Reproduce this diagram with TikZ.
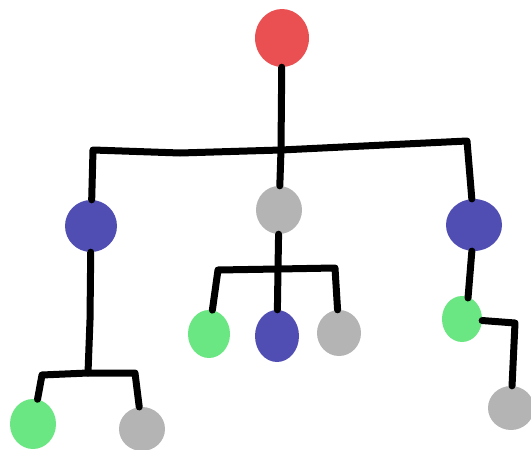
\documentclass[tikz,border=0pt]{standalone}
\usetikzlibrary{shapes.geometric}
\definecolor{blobred}{RGB}{234,80,82}
\definecolor{blobblue}{RGB}{80,78,178}
\definecolor{blobgray}{RGB}{180,180,180}
\definecolor{blobgreen}{RGB}{106,230,130}
\begin{document}
\begin{tikzpicture}[x=1pt,y=-1pt,
  blob/.style={ellipse,inner sep=0pt,draw=none},
  wire/.style={line width=7pt,line cap=round,line join=round}]
\useasboundingbox (0,0) rectangle (531,450);
% tree nodes
\node[blob,fill=blobred,minimum width=54pt,minimum height=58pt] (root) at (282,38) {};
\node[blob,fill=blobblue,minimum width=52pt,minimum height=52pt] (bl) at (91,226) {};
\node[blob,fill=blobgray,minimum width=46pt,minimum height=48pt] (gm) at (279,210) {};
\node[blob,fill=blobblue,minimum width=56pt,minimum height=52pt] (br) at (474,225) {};
\node[blob,fill=blobgreen,minimum width=42pt,minimum height=48pt] (g1) at (209,334) {};
\node[blob,fill=blobblue,minimum width=44pt,minimum height=52pt] (b2) at (277,336) {};
\node[blob,fill=blobgray,minimum width=44pt,minimum height=46pt] (g2) at (339,333) {};
\node[blob,fill=blobgreen,minimum width=40pt,minimum height=46pt] (gr) at (462,319) {};
\node[blob,fill=blobgray,minimum width=46pt,minimum height=44pt] (gfr) at (511,408) {};
\node[blob,fill=blobgreen,minimum width=46pt,minimum height=50pt] (gbl) at (33,424) {};
\node[blob,fill=blobgray,minimum width=46pt,minimum height=44pt] (gb) at (142,429) {};
% junctions
\coordinate (top) at (281,150);
\coordinate (topL) at (93,150);
\coordinate (topM) at (180,153);
\coordinate (topR) at (467,141);
\coordinate (lj) at (88,373);
\coordinate (ljL) at (42,375);
\coordinate (ljR) at (135,373);
\coordinate (mj) at (278,269);
\coordinate (mjL) at (218,270);
\coordinate (mjR) at (335,268);
\coordinate (rc) at (515,323);
\coordinate (rd) at (468,298);
% connectors
\draw[wire] (root) -- (top);
\draw[wire] (bl) -- (topL) -- (topM) -- (top) -- (topR) -- (br);
\draw[wire] (top) -- (gm);
\draw[wire] (bl) -- (90,320) -- (lj);
\draw[wire] (gbl) -- (ljL) -- (lj) -- (ljR) -- (gb);
\draw[wire] (gm) -- (mj);
\draw[wire] (g1) -- (mjL) -- (mj) -- (mjR) -- (g2);
\draw[wire] (mj) -- (b2);
\draw[wire] (br) -- (rd);
\draw[wire] (gr) -- (rc) -- (gfr);
\end{tikzpicture}
\end{document}
